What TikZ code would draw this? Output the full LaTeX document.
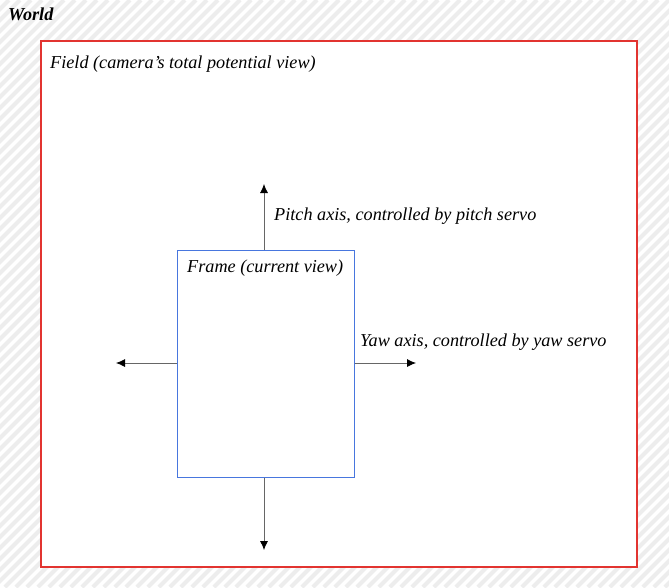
\documentclass[tikz,border=0pt]{standalone}
\usepackage{fontspec}
\setmainfont{Liberation Serif}
\usetikzlibrary{arrows.meta}
\definecolor{fieldred}{RGB}{226,52,48}
\definecolor{frameblue}{RGB}{72,118,222}

\begin{document}
\begin{tikzpicture}[x=1pt,y=-1pt,
            stripe_style/.style={draw=black!7,line width=4pt},
            field_style/.style={draw=fieldred,fill=white,line width=1.2pt,
                inner sep=0pt,minimum width=596pt,minimum height=526pt},
            frame_style/.style={draw=frameblue,fill=white,line width=1pt,
                inner sep=0pt,minimum width=177pt,minimum height=227pt},
            label_style/.style={inner sep=0pt,anchor=base west,font=\fontsize{18.2}{21}\selectfont\itshape},
            axis_style/.style={draw=black!60,line width=0.8pt,-{Latex[length=9pt,width=8pt,black]}}]
            % background
            \useasboundingbox (0,0) rectangle (669,587);
            \begin{scope}
                \clip (0,0) rectangle (669,587);
                \fill[white] (0,0) rectangle (669,587);
                \foreach \i in {-600,-589,...,680}
                    \draw[stripe_style] (\i,587) -- ++(587,-587);
            \end{scope}
            \node[label_style,font=\fontsize{18.2}{21}\selectfont\bfseries\itshape] (world) at (8,20) {World};
            % field
            \node[field_style] (field) at (339,304) {};
            \node[label_style] (fieldlabel) at (50,68) {Field (camera’s total potential view)};
            % frame
            \node[frame_style] (frame) at (265.5,363.5) {};
            \node[label_style] (framelabel) at (187,272) {Frame (current view)};
            % axes
            \coordinate (up) at (264,184);
            \coordinate (down) at (264,550);
            \coordinate (left) at (116,363);
            \coordinate (right) at (416,363);
            \draw[axis_style] (frame.north -| up) -- (up);
            \draw[axis_style] (frame.south -| down) -- (down);
            \draw[axis_style] (frame.west |- left) -- (left);
            \draw[axis_style] (frame.east |- right) -- (right);
            \node[label_style] (pitch) at (274,220) {Pitch axis, controlled by pitch servo};
            \node[label_style] (yaw) at (360,346) {Yaw axis, controlled by yaw servo};
        \end{tikzpicture}
\end{document}
